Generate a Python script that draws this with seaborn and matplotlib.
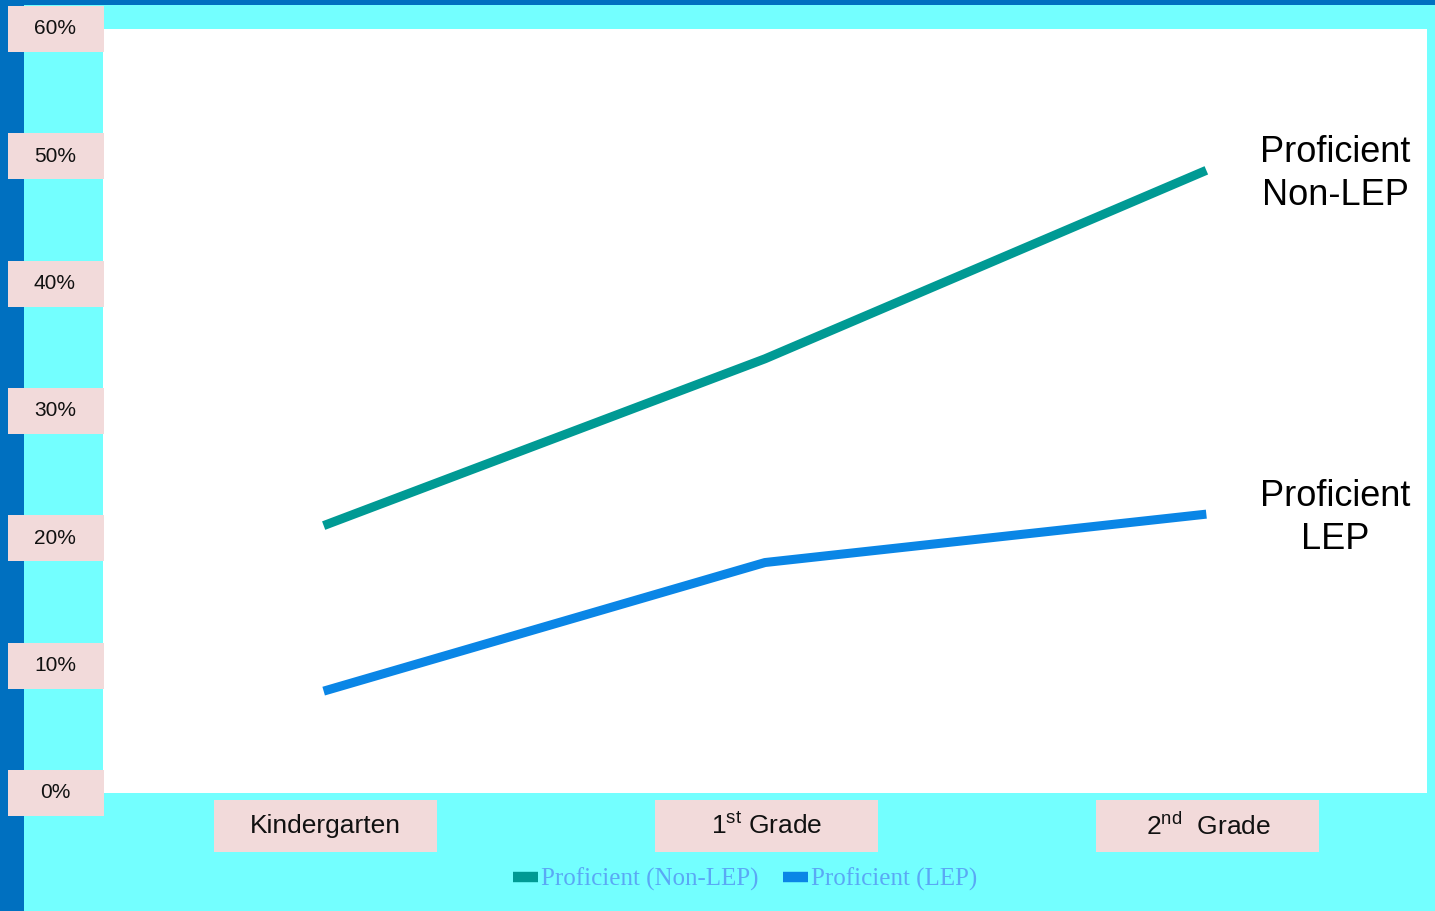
import matplotlib
matplotlib.use("Agg")
import matplotlib.pyplot as plt
import matplotlib.transforms as mtransforms
from matplotlib.patches import Rectangle
from matplotlib.lines import Line2D
import seaborn as sns
import pandas as pd

grades = ["Kindergarten", r"1$^{\mathrm{st}}$ Grade", r"2$^{\mathrm{nd}}$  Grade"]
non_lep = [21.0, 34.1, 48.9]
lep = [8.0, 18.1, 21.9]
series_names = ["Proficient (Non-LEP)", "Proficient (LEP)"]
end_labels = ["Proficient\nNon-LEP", "Proficient\nLEP"]
yticks = [0, 10, 20, 30, 40, 50, 60]
ytick_labels = ["0%", "10%", "20%", "30%", "40%", "50%", "60%"]

colors = ["#009A94", "#0A86E6"]
CYAN = "#73FFFF"
DARKBLUE = "#0070C0"
PINK = "#F2DADA"

sns.set_theme(style="white")
plt.rcParams["font.family"] = ["Liberation Sans", "DejaVu Sans"]
plt.rcParams["mathtext.fontset"] = "custom"
plt.rcParams["mathtext.rm"] = "Liberation Sans"
plt.rcParams["mathtext.it"] = "Liberation Sans:italic"

df = pd.DataFrame({
    "grade": list(range(len(grades))) * 2,
    "value": non_lep + lep,
    "series": [series_names[0]] * len(grades) + [series_names[1]] * len(grades),
})

W, H = 1435, 911
fig = plt.figure(figsize=(W / 100, H / 100), dpi=100, facecolor=CYAN)
ax = fig.add_axes([103 / W, 1 - 793 / H, (1427 - 103) / W, (793 - 29) / H])
ax.set_facecolor("white")

# decorative strips
fig.patches.append(Rectangle((0, 0), 24 / W, 1, transform=fig.transFigure,
                             facecolor=DARKBLUE, edgecolor="none", zorder=0))
fig.patches.append(Rectangle((0, 1 - 5 / H), 1, 5 / H, transform=fig.transFigure,
                             facecolor=DARKBLUE, edgecolor="none", zorder=0))

sns.lineplot(data=df, x="grade", y="value", hue="series", palette=colors,
             linewidth=6.5, ax=ax, legend=False)
for ln in ax.get_lines():
    ln.set_solid_capstyle("butt")

ax.set_xlim(-0.5, len(grades) - 0.5)
ax.set_ylim(0, 60)
ax.set_xticks(range(len(grades)))
ax.set_yticks(yticks)
ax.set_xticklabels([])
ax.set_yticklabels([])
ax.tick_params(length=0)
ax.set_xlabel("")
ax.set_ylabel("")
for s in ax.spines.values():
    s.set_visible(False)

# y tick label boxes
for v, lab in zip(yticks, ytick_labels):
    yf = ax.transData.transform((0, v))[1] / H
    fig.patches.append(Rectangle((8 / W, yf - 23 / H), 96 / W, 46 / H,
                                 transform=fig.transFigure, facecolor=PINK,
                                 edgecolor="none", zorder=1))
    fig.text(55 / W, yf, lab, ha="center", va="center", fontsize=15,
             color="#111111", zorder=3)

# x tick label boxes
for i, lab in enumerate(grades):
    xf = ax.transData.transform((i, 0))[0] / W
    fig.patches.append(Rectangle((xf - 110 / W, 1 - 852 / H), 223 / W, 52 / H,
                                 transform=fig.transFigure, facecolor=PINK,
                                 edgecolor="none", zorder=1))
    fig.text(xf + 2 / W, 1 - 826 / H, lab, ha="center", va="center",
             fontsize=19, color="#111111", zorder=3)

# end labels
te = mtransforms.blended_transform_factory(ax.transAxes, ax.transData)
for lab, vals in zip(end_labels, [non_lep, lep]):
    ax.text(0.931, vals[-1] - 0.3, lab, transform=te, ha="center", va="center",
            fontsize=26, color="#000000", linespacing=1.3)

# legend
handles = [Line2D([0], [0], color=c, linewidth=7.5, solid_capstyle="butt") for c in colors]
leg = fig.legend(handles, series_names, loc="center", bbox_to_anchor=(745 / W, 1 - 879 / H),
                 ncol=2, frameon=False, handlelength=1.0, handletextpad=0.1,
                 columnspacing=1.0, prop={"family": "Liberation Serif", "size": 18})
for t in leg.get_texts():
    t.set_color("#5AA8F5")

fig.savefig("out.png", dpi=100, facecolor=CYAN)
